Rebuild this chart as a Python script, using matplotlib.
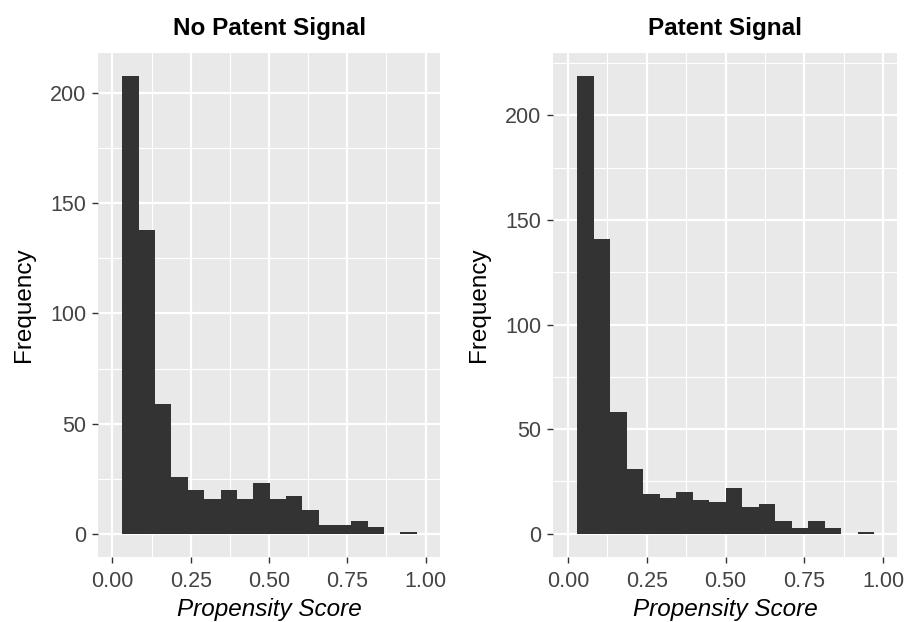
import numpy as np
import matplotlib
matplotlib.use("Agg")
import matplotlib.pyplot as plt
from matplotlib.ticker import MultipleLocator

plt.rcParams['font.family'] = ['Liberation Sans', 'DejaVu Sans']

# Histogram counts (18 bins each, one empty)
no_patent_counts = [208, 138, 59, 26, 20, 16, 20, 16, 23, 16, 17, 11, 4, 4, 6, 3, 0, 1]
patent_counts = [219, 141, 58, 31, 19, 17, 20, 16, 15, 22, 13, 14, 6, 3, 6, 3, 0, 1]

# bin geometry (propensity score)
no_patent_start, no_patent_width = 0.032, 0.0522
patent_start, patent_width = 0.0286, 0.0524

panel_titles = ["No Patent Signal", "Patent Signal"]
x_ticks = [0.00, 0.25, 0.50, 0.75, 1.00]
x_ticklabels = ["0.00", "0.25", "0.50", "0.75", "1.00"]

fig = plt.figure(figsize=(9.05, 6.22), dpi=100)

panels = [
    (no_patent_counts, no_patent_start, no_patent_width, [0.1086, 0.105, 0.3780, 0.8103], (-0.045, 1.047)),
    (patent_counts, patent_start, patent_width, [0.6114, 0.105, 0.3803, 0.8103], (-0.047, 1.046)),
]

for (counts, start, width, rect, xlim), title in zip(panels, panel_titles):
    ax = fig.add_axes(rect)
    edges = start + width * np.arange(len(counts))
    ax.bar(edges, counts, width=width, align='edge', color='#333333', linewidth=0, zorder=3)

    top = max(counts)
    ax.set_ylim(-0.05 * top, 1.05 * top)
    ax.set_xlim(*xlim)

    ax.set_facecolor('#E9E9E9')
    for sp in ax.spines.values():
        sp.set_visible(False)

    ax.set_xticks(x_ticks)
    ax.set_xticklabels(x_ticklabels)
    ax.yaxis.set_major_locator(MultipleLocator(50))
    ax.xaxis.set_minor_locator(MultipleLocator(0.125))
    ax.yaxis.set_minor_locator(MultipleLocator(25))
    ax.grid(which='major', color='white', linewidth=1.6, zorder=0)
    ax.grid(which='minor', color='white', linewidth=0.8, zorder=0)
    ax.set_axisbelow(True)

    ax.tick_params(which='major', length=4.5, width=1.0, color='#333333',
                   labelsize=15.5, labelcolor='#444444')
    ax.tick_params(axis='x', which='major', pad=6)
    ax.tick_params(axis='y', which='major', pad=4)
    ax.tick_params(which='minor', length=0)

    ax.set_title(title, fontsize=17.5, fontweight='bold', pad=13)
    ax.set_xlabel("Propensity Score", fontsize=17.5, style='italic', labelpad=4)
    ax.set_ylabel("Frequency", fontsize=17.5, labelpad=11)

fig.savefig("out.png", dpi=100)
